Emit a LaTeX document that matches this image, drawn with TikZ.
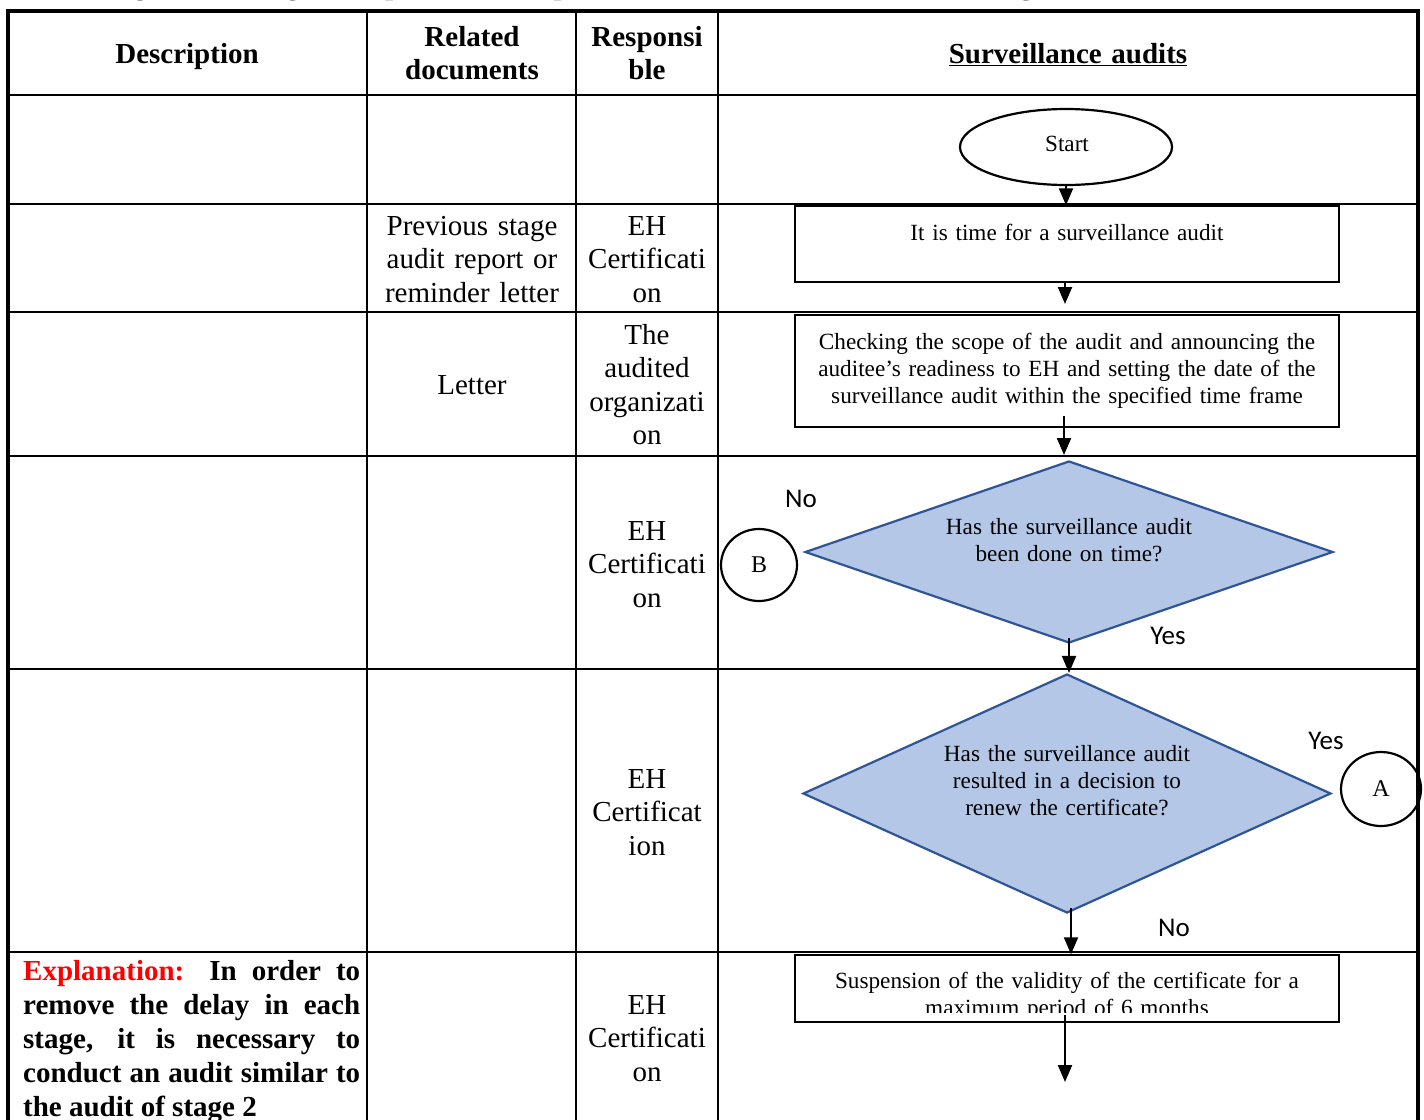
\documentclass[tikz,border=0pt]{standalone}
\usepackage{fontspec}
\setmainfont{Liberation Serif}
\newfontfamily\calibri{Carlito}
\usetikzlibrary{shapes.geometric,arrows.meta}
\definecolor{dfill}{RGB}{180,199,231}
\definecolor{dline}{RGB}{47,85,151}
\begin{document}
\begin{tikzpicture}[x=1pt,y=-1pt,
  cell/.style={font=\fontsize{29}{33.5}\selectfont, inner sep=0pt, anchor=base, align=center, text width=#1},
  cell/.default=200pt,
  hcell/.style={font=\bfseries\fontsize{29}{33.5}\selectfont, inner sep=0pt, anchor=base, align=center, text width=#1},
  hcell/.default=200pt,
  ftext/.style={font=\fontsize{23.2}{27}\selectfont, inner sep=0pt, anchor=base, align=center, text width=#1},
  ftext/.default=540pt,
  yn/.style={font=\calibri\fontsize{27}{30}\selectfont, inner sep=0pt, anchor=base},
  box/.style={draw, line width=1.5pt, minimum width=544pt, inner sep=0pt},
  dec/.style={diamond, draw=dline, fill=dfill, line width=2.2pt, inner sep=0pt},
  conn/.style={ellipse, draw, line width=2.2pt, inner sep=0pt, font=\fontsize{24}{27}\selectfont},
  arr/.style={line width=2.2pt, -{Triangle[length=17pt,width=14pt]}},
  grid/.style={line width=2.2pt},
  frame/.style={line width=4pt}]
\useasboundingbox (0,0) rectangle (1424,1119);
\fill[white] (0,0) rectangle (1424,1119);

% title (cut off at top)
\node[font=\bfseries\fontsize{29}{33.5}\selectfont, inner sep=0pt, anchor=base] (title) at (690,-6)
  {Figure 2: The general process of suspension and cancellation in conducting surveillance audits};

% table grid
\foreach \yy in {95,204,312,456,669,952} \draw[grid] (8,\yy) -- (1418,\yy);
\foreach \xx in {367,576,718} \draw[grid] (\xx,11) -- (\xx,1130);
\draw[frame] (8,1130) -- (8,11) -- (1418,11) -- (1418,1130);

% header
\node[hcell] (hdesc) at (187,63) {Description};
\node[hcell] (hdoc) at (472,46) {Related\\documents};
\node[hcell=140pt] (hresp) at (647,46) {Responsi\\ble};
\node[hcell=600pt] (hsurv) at (1068,63) {\underline{Surveillance audits}};

% column texts
\node[cell] (doc2) at (472,235) {Previous stage\\audit report or\\reminder letter};
\node[cell=140pt] (resp2) at (647,235) {EH\\Certificati\\on};
\node[cell] (doc3) at (472,394) {Letter};
\node[cell=140pt] (resp3) at (647,344) {The\\audited\\organizati\\on};
\node[cell=140pt] (resp4) at (647,540) {EH\\Certificati\\on};
\node[cell=140pt] (resp5) at (647,788) {EH\\Certificat\\ion};
\node[cell=140pt] (resp6) at (647,1014) {EH\\Certificati\\on};
\node[font=\bfseries\fontsize{29}{34.2}\selectfont, inner sep=0pt, anchor=base west, align=justify, text width=337pt] (expl) at (23,980)
  {{\color{red}Explanation:} In order to\linebreak remove the delay in each\linebreak stage, it is necessary to\linebreak conduct an audit similar to\linebreak the audit of stage 2};

% flowchart shapes
\node[conn, minimum width=212pt, minimum height=76pt] (start) at (1066,147) {};
\node[ftext=200pt] (startlbl) at (1067,151) {Start};
\node[box, minimum height=76pt] (box1) at (1067,244) {};
\node[ftext] (box1lbl) at (1067,240) {It is time for a surveillance audit};
\node[box, minimum height=112pt] (box2) at (1067,371) {};
\node[ftext] (box2lbl) at (1067,349.5) {Checking the scope of the audit and announcing the\\auditee\symbol{39}s readiness to EH and setting the date of the\\surveillance audit within the specified time frame};
\node[dec, minimum width=528pt, minimum height=182pt] (d1) at (1069,552) {};
\node[ftext=400pt] (d1lbl) at (1069,534.5) {Has the surveillance audit\\been done on time?};
\node[dec, minimum width=528pt, minimum height=239pt] (d2) at (1067,793.5) {};
\node[ftext=400pt] (d2lbl) at (1067,761.5) {Has the surveillance audit\\resulted in a decision to\\renew the certificate?};
\node[box, minimum height=67pt] (box3) at (1067,988.5) {};
\begin{scope}
\clip (795,955) rectangle (1339,1012);
\node[ftext] (box3lbl) at (1067,988.5) {Suspension of the validity of the certificate for a\\maximum period of 6 months};
\end{scope}
\node[conn, minimum width=76pt, minimum height=72pt] (cB) at (759,565) {B};
\node[conn, minimum width=80pt, minimum height=74pt] (cA) at (1381,789) {A};

% yes / no labels
\node[yn] (no1) at (801,507) {No};
\node[yn] (yes1) at (1168,644) {Yes};
\node[yn] (yes2) at (1326,749) {Yes};
\node[yn] (no2) at (1174,936) {No};

% connectors
\coordinate (c2) at (1065,304);
\coordinate (c3) at (1064,455);
\coordinate (c6) at (1065,1082);
\draw[arr] (start.south) -- (start.south |- box1.north);
\draw[arr] (box1.south -| c2) -- (c2);
\draw[arr] ([yshift=12pt]box2.south -| c3) -- (c3);
\draw[arr] ([yshift=6pt]d1.south) -- (d1.south |- d2.north);
\draw[arr] ([yshift=6pt,xshift=4pt]d2.south) -- ([xshift=4pt]d2.south |- box3.north);
\draw[arr] ([yshift=8pt]box3.south -| c6) -- (c6);
\end{tikzpicture}
\end{document}
